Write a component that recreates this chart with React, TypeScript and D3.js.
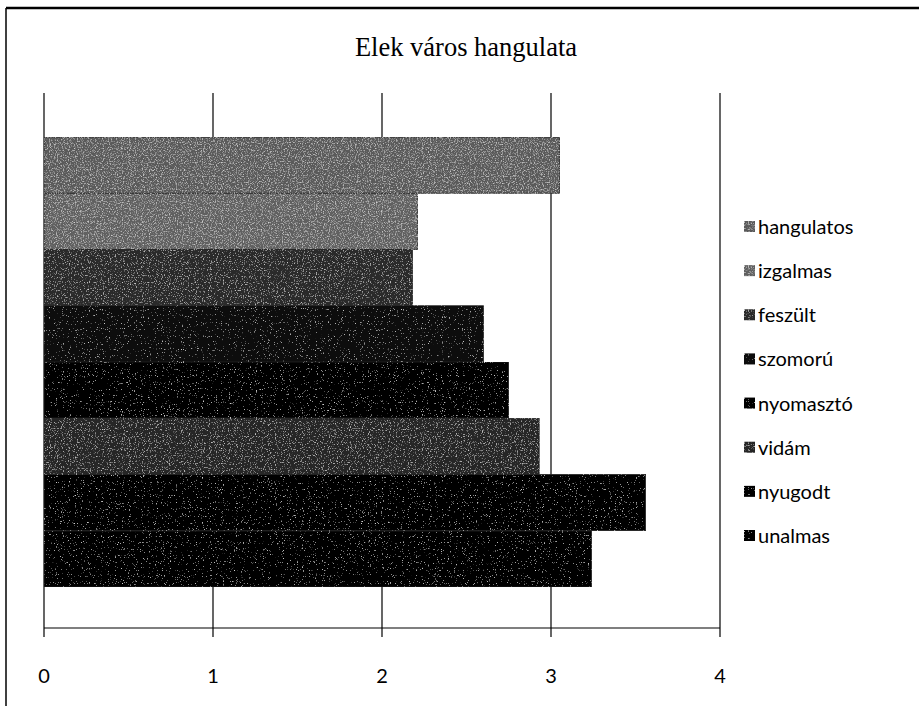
import React from "react";
import * as d3 from "d3";

const seriesNames = ["hangulatos", "izgalmas", "feszült", "szomorú", "nyomasztó", "vidám", "nyugodt", "unalmas"];
const seriesValues = [3.05, 2.21, 2.18, 2.6, 2.75, 2.93, 3.56, 3.24];
const seriesColors = ["#5a5a5a", "#606060", "#2a2a2a", "#0c0c0c", "#050505", "#262626", "#030303", "#040404"];
const seriesGrain = ["heavy", "heavy", "mid", "sparse", "sparse", "mid", "sparse", "sparse"];
const xTicks = [0, 1, 2, 3, 4];
const title = "Elek város hangulata";

const grainCut: Record<string, string> = { heavy: "1.6 0 0 0 -0.8", mid: "2 0 0 0 -1.15", sparse: "3 0 0 0 -2.0" };

export default function App() {
  const W = 919, H = 706;
  const x = d3.scaleLinear().domain([0, 4]).range([44, 720]);
  const plotTop = 93, plotBottom = 628;
  const y = d3.scaleBand<string>().domain(seriesNames).range([137, 587]).paddingInner(0);
  const legendY = d3.scalePoint<string>().domain(seriesNames).range([227, 536]);
  const font = "Lato, 'Open Sans', sans-serif";
  return (
    <div style={{ position: "absolute", left: 0, top: 0 }}>
      <svg width={W} height={H} style={{ display: "block" }}>
        <defs>
          {Object.keys(grainCut).map((k) => (
            <filter key={k} id={`noise-${k}`} x="0" y="0" width="100%" height="100%">
              <feTurbulence type="fractalNoise" baseFrequency="0.85" numOctaves="2" seed="3" result="t" />
              <feColorMatrix in="t" type="matrix" values={`0 0 0 0 1  0 0 0 0 1  0 0 0 0 1  ${grainCut[k]}`} result="n" />
              <feComposite in="n" in2="SourceGraphic" operator="in" result="nc" />
              <feMerge>
                <feMergeNode in="SourceGraphic" />
                <feMergeNode in="nc" />
              </feMerge>
            </filter>
          ))}
        </defs>
        <rect x={0} y={0} width={W} height={H} fill="#fff" />
        <line x1={6} x2={W} y1={8} y2={8} stroke="#000" strokeWidth={2.5} />
        <line x1={6} x2={6} y1={8} y2={H} stroke="#000" strokeWidth={1.5} />
        <text x={466} y={56} textAnchor="middle" fontFamily="'Liberation Serif', 'DejaVu Serif', serif" fontSize={26.5} fill="#000">{title}</text>
        {xTicks.map((t) => (
          <g key={t}>
            <line x1={x(t)} x2={x(t)} y1={plotTop} y2={plotBottom + 9} stroke="#000" strokeWidth={1.2} />
            <text x={x(t)} y={683} textAnchor="middle" fontFamily={font} fontSize={20} fill="#000">{t}</text>
          </g>
        ))}
        {seriesNames.map((s, i) => (
          <rect key={s} x={x(0)} y={y(s)} width={x(seriesValues[i]) - x(0)} height={y.bandwidth()} fill={seriesColors[i]} stroke="#222" strokeWidth={0.8} filter={`url(#noise-${seriesGrain[i]})`} />
        ))}
        <line x1={x(0)} x2={x(4)} y1={plotBottom} y2={plotBottom} stroke="#000" strokeWidth={1.2} />
        {seriesNames.map((s, i) => (
          <g key={s} transform={`translate(0,${legendY(s)})`}>
            <rect x={744} y={-6} width={11} height={11} fill={seriesColors[i]} filter={`url(#noise-${seriesGrain[i]})`} />
            <text x={758} y={7} fontFamily={font} fontSize={20} fill="#000">{s}</text>
          </g>
        ))}
      </svg>
    </div>
  );
}
